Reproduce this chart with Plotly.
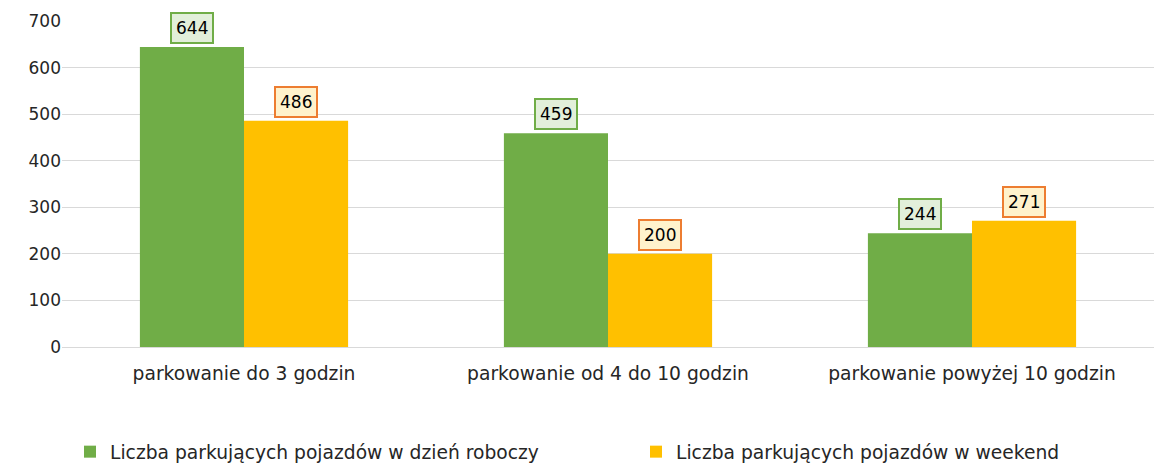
import plotly.graph_objects as go

categories = ["parkowanie do 3 godzin", "parkowanie od 4 do 10 godzin", "parkowanie powyżej 10 godzin"]
workday = [644, 459, 244]
weekend = [486, 200, 271]
series_names = ["Liczba parkujących pojazdów w dzień roboczy", "Liczba parkujących pojazdów w weekend"]
y_ticks = [0, 100, 200, 300, 400, 500, 600, 700]

FONT = "Verdana, DejaVu Sans, sans-serif"
GREEN = "#70AD47"
YELLOW = "#FFC000"
TXT = "#262626"

# page body has an 8px margin, so the figure is sized to fit the 1164x465 window
W, H = 1156, 457

fig = go.Figure()
fig.add_trace(go.Bar(x=categories, y=workday, name=series_names[0], legend="legend",
                     marker=dict(color=GREEN, line=dict(width=0))))
fig.add_trace(go.Bar(x=categories, y=weekend, name=series_names[1], legend="legend2",
                     marker=dict(color=YELLOW, line=dict(width=0))))

for c, v in zip(categories, workday):
    fig.add_annotation(x=c, y=v, xref="x", yref="y", text=str(v), showarrow=False,
                       xshift=-52, yshift=3, yanchor="bottom",
                       bgcolor="#E2EFDA", bordercolor=GREEN, borderwidth=2, borderpad=4,
                       font=dict(family=FONT, size=17, color="#000000"))
for c, v in zip(categories, weekend):
    fig.add_annotation(x=c, y=v, xref="x", yref="y", text=str(v), showarrow=False,
                       xshift=52, yshift=3, yanchor="bottom",
                       bgcolor="#FFF2CC", bordercolor="#ED7D31", borderwidth=2, borderpad=4,
                       font=dict(family=FONT, size=17, color="#000000"))

legend_common = dict(orientation="h", xref="container", yref="container", yanchor="middle",
                     xanchor="left", itemwidth=30, bgcolor="rgba(0,0,0,0)",
                     font=dict(family=FONT, size=18.7, color=TXT))
leg_y = (H - 444) / H

fig.update_layout(
    width=W, height=H,
    margin=dict(l=54, r=10, t=13, b=118, autoexpand=False),
    barmode="group", bargap=0.428, bargroupgap=0,
    plot_bgcolor="white", paper_bgcolor="white",
    font=dict(family=FONT, size=17, color=TXT),
    showlegend=True,
    legend=dict(x=62 / W, y=leg_y, **legend_common),
    legend2=dict(x=628 / W, y=leg_y, **legend_common),
    xaxis=dict(showgrid=False, showline=True, linecolor="#D9D9D9", linewidth=1, ticks="",
               automargin=False, ticklabelstandoff=10,
               tickfont=dict(family=FONT, size=18.7, color=TXT)),
    yaxis=dict(range=[0, 700], tickvals=y_ticks, showgrid=True, gridcolor="#D9D9D9", gridwidth=1,
               zeroline=False, showline=False, ticks="", automargin=False,
               tickfont=dict(family=FONT, size=17, color=TXT)),
)

fig.write_html("out.html")
